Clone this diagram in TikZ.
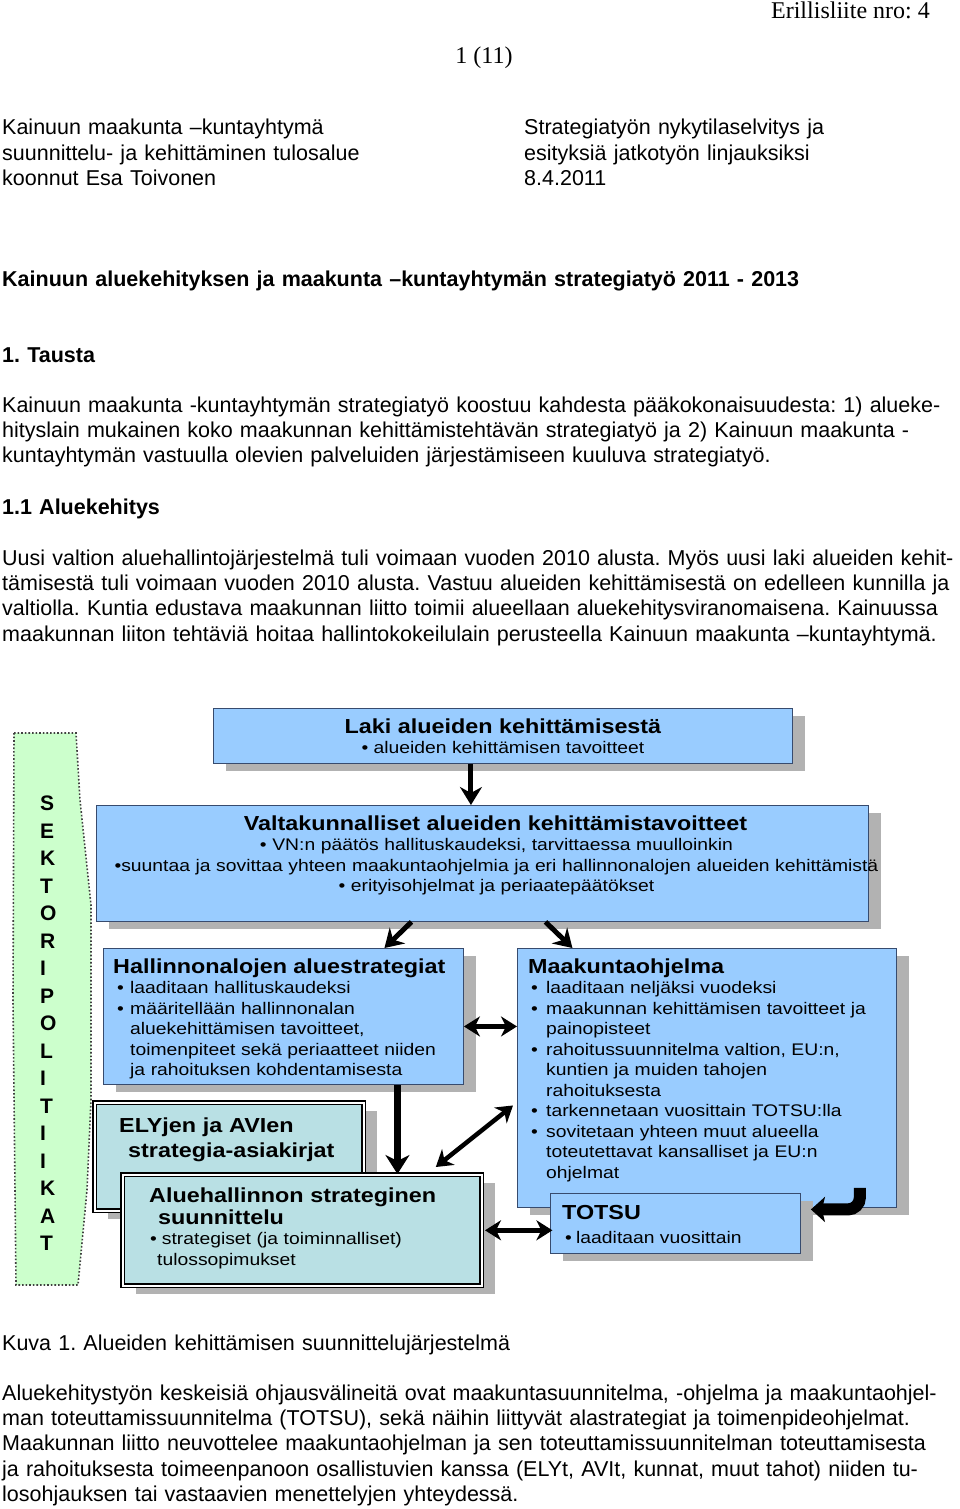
\documentclass[tikz,border=0pt]{standalone}
\usepackage{fontspec}
\setmainfont{Liberation Sans}
\newfontfamily\serifhead{Liberation Serif}
\newfontfamily\diafont[FakeStretch=1.15]{Liberation Sans}
\usetikzlibrary{positioning, arrows.meta, calc, shadows}
\frenchspacing

\definecolor{boxblue}{RGB}{153,204,255}
\definecolor{boxedge}{RGB}{55,75,110}
\definecolor{boxteal}{RGB}{185,224,228}
\definecolor{bandgreen}{RGB}{204,255,204}
\definecolor{shadowgray}{RGB}{178,178,178}

\newcommand{\bpt}[1][14pt]{\makebox[#1][l]{•}}
\newcommand{\bpad}[1][14pt]{\hspace*{#1}}

\begin{document}
\begin{tikzpicture}[
    x=1pt, y=-1pt,
    pg/.style={font=\fontsize{21.5}{25.4}\selectfont, inner sep=0, anchor=base west,
               text width=1000pt, align=left},
    pghd/.style={pg, font=\fontsize{21.5}{25.4}\selectfont\bfseries},
    serifhd/.style={font=\serifhead\fontsize{24}{28}\selectfont, inner sep=0},
    box/.style={draw=boxedge, line width=0.9pt, fill=boxblue, anchor=north west, inner sep=0,
                drop shadow={shadow xshift=13pt, shadow yshift=-8pt, fill=shadowgray, opacity=1}},
    dbox/.style={box, draw=black, fill=boxteal, line width=1.6pt, double=white,
                 double distance=1.6pt},
    ttl/.style={font=\diafont\bfseries\fontsize{20.3}{25}\selectfont, inner sep=0},
    boxtxt/.style={font=\diafont\fontsize{16.8}{20.5}\selectfont, inner sep=0},
    boxlist/.style={boxtxt, anchor=base west, text width=370pt, align=left},
    sektor/.style={font=\fontsize{21}{21}\selectfont\bfseries, inner sep=0, anchor=base west},
    band/.style={fill=bandgreen, draw=black!75, dotted, line width=1.6pt},
    arr/.style={line width=5pt, -{Stealth[length=18pt,width=22pt,inset=6pt]}},
    darr/.style={line width=4.5pt, {Stealth[length=16pt,width=20pt,inset=5pt]}-{Stealth[length=16pt,width=20pt,inset=5pt]}},
    fatarr/.style={line width=6.5pt, -{Stealth[length=19pt,width=24pt,inset=6pt]}},
    hookarr/.style={line width=12pt, rounded corners=12pt, -{Stealth[length=14pt,width=25pt,inset=3pt]}},
  ]
  \fill[white] (0,0) rectangle (960,1509);
  \useasboundingbox (0,0) rectangle (960,1509);

  \node[serifhd, anchor=base east] (liite) at (930,19) {Erillisliite nro: 4};
  \node[serifhd, anchor=base] (sivu) at (484,64) {1 (11)};

  \node[pg, text width=500pt] (laatija) at (2,135) {Kainuun maakunta –kuntayhtymä\\suunnittelu- ja kehittäminen tulosalue\\koonnut Esa Toivonen};
  \node[pg, text width=430pt] (aihe) at (524,135) {Strategiatyön nykytilaselvitys ja\\esityksiä jatkotyön linjauksiksi\\8.4.2011};

  \node[pghd] (otsikko) at (2,286) {Kainuun aluekehityksen ja maakunta –kuntayhtymän strategiatyö 2011 - 2013};
  \node[pghd] (tausta) at (2,362) {1. Tausta};
  \node[pg] (kpl1) at (2,412) {Kainuun maakunta -kuntayhtymän strategiatyö koostuu kahdesta pääkokonaisuudesta: 1) alueke-\\hityslain mukainen koko maakunnan kehittämistehtävän strategiatyö ja 2) Kainuun maakunta -\\kuntayhtymän vastuulla olevien palveluiden järjestämiseen kuuluva strategiatyö.};
  \node[pghd] (aluekeh) at (2,514) {1.1 Aluekehitys};
  \node[pg] (kpl2) at (2,565) {Uusi valtion aluehallintojärjestelmä tuli voimaan vuoden 2010 alusta. Myös uusi laki alueiden kehit-\\tämisestä tuli voimaan vuoden 2010 alusta. Vastuu alueiden kehittämisestä on edelleen kunnilla ja\\valtiolla. Kuntia edustava maakunnan liitto toimii alueellaan aluekehitysviranomaisena. Kainuussa\\maakunnan liiton tehtäviä hoitaa hallintokokeilulain perusteella Kainuun maakunta –kuntayhtymä.};

  \draw[band] (14,733) -- (76,733) -- (80,800) -- (91,905) -- (91,1100) -- (87,1190)
    -- (78,1285) -- (16,1285) -- (13,1000) -- cycle;
  \foreach \ch [count=\i from 0] in {S,E,K,T,O,R,I,P,O,L,I,T,I,I,K,A,T}
    \node[sektor] (sek\i) at (40,810.5+27.5*\i) {\ch};

  \node[box, minimum width=579pt, minimum height=55pt] (laki) at (213,708) {};
  \node[box, minimum width=772pt, minimum height=116pt] (valtak) at (96,805) {};
  \node[box, minimum width=360pt, minimum height=136pt] (hallinnon) at (103,948) {};
  \node[box, minimum width=379pt, minimum height=259pt] (maakunta) at (517,948) {};
  \node[dbox, minimum width=269pt, minimum height=108pt] (ely) at (94,1102) {};
  \node[dbox, minimum width=359pt, minimum height=111pt] (aluehall) at (122,1174) {};
  \node[box, minimum width=250pt, minimum height=60pt] (totsu) at (550,1193) {};

  \node[ttl, anchor=base] (lakit) at ($(laki.north)+(0,25)$) {Laki alueiden kehittämisestä};
  \node[boxtxt, anchor=base] (lakib) at ($(laki.north)+(0,45.5)$) {• alueiden kehittämisen tavoitteet};

  \node[ttl, anchor=base] (valtakt) at ($(valtak.north)+(13,25)$) {Valtakunnalliset alueiden kehittämistavoitteet};
  \node[boxtxt, anchor=base, text width=800pt, align=center] (valtakb) at ($(valtak.north)+(14,45.5)$)
    {• VN:n päätös hallituskaudeksi, tarvittaessa muulloinkin\\•suuntaa ja sovittaa yhteen maakuntaohjelmia ja eri hallinnonalojen alueiden kehittämistä\\• erityisohjelmat ja periaatepäätökset};

  \node[ttl, anchor=base west] (hallinnont) at ($(hallinnon.north west)+(10,25)$) {Hallinnonalojen aluestrategiat};
  \node[boxlist] (hallinnonb) at ($(hallinnon.north west)+(14,45.5)$)
    {\bpt[13pt]laaditaan hallituskaudeksi\\\bpt[13pt]määritellään hallinnonalan\\\bpad[13pt]aluekehittämisen tavoitteet,\\\bpad[13pt]toimenpiteet sekä periaatteet niiden\\\bpad[13pt]ja rahoituksen kohdentamisesta};

  \node[ttl, anchor=base west] (maakuntat) at ($(maakunta.north west)+(11,25)$) {Maakuntaohjelma};
  \node[boxlist] (maakuntab) at ($(maakunta.north west)+(14,45.5)$)
    {\bpt[15pt]laaditaan neljäksi vuodeksi\\\bpt[15pt]maakunnan kehittämisen tavoitteet ja\\\bpad[15pt]painopisteet\\\bpt[15pt]rahoitussuunnitelma valtion, EU:n,\\\bpad[15pt]kuntien ja muiden tahojen\\\bpad[15pt]rahoituksesta\\\bpt[15pt]tarkennetaan vuosittain TOTSU:lla\\\bpt[15pt]sovitetaan yhteen muut alueella\\\bpad[15pt]toteutettavat kansalliset ja EU:n\\\bpad[15pt]ohjelmat};

  \node[ttl, anchor=base west, text width=250pt, align=left] (elyt) at ($(ely.north west)+(25,30)$)
    {ELYjen ja AVIen\\\hspace*{9pt}strategia-asiakirjat};

  \node[ttl, anchor=base west, text width=330pt, align=left, font=\diafont\bfseries\fontsize{20.3}{22}\selectfont]
    (aluehallt) at ($(aluehall.north west)+(27,28)$) {Aluehallinnon strateginen\\\hspace*{9pt}suunnittelu};
  \node[boxlist, text width=330pt] (aluehallb) at ($(aluehall.north west)+(28,70.5)$)
    {•\hspace{5pt}strategiset (ja toiminnalliset)\\\bpad[7pt]tulossopimukset};

  \node[ttl, anchor=base west] (totsut) at ($(totsu.north west)+(12,26)$) {TOTSU};
  \node[boxtxt, anchor=base west] (totsub) at ($(totsu.north west)+(15,50.5)$) {\bpt[11pt]laaditaan vuosittain};

  \draw[arr] ([xshift=-32pt]laki.south) -- ([xshift=-32pt]laki.south |- valtak.north);
  \draw[arr] ($(valtak.south)+(-71,0)$) -- ($(hallinnon.north)+(101,0)$);
  \draw[arr] ($(valtak.south)+(63,0)$) -- ($(maakunta.north)+(-134.5,0)$);
  \draw[darr] ([yshift=-10pt]hallinnon.east) -- ([yshift=-10pt]hallinnon.east -| maakunta.west);
  \draw[fatarr] ([xshift=114pt]hallinnon.south) -- ([xshift=114pt]hallinnon.south |- aluehall.north);
  \draw[darr] ($(aluehall.north)+(133.5,-7)$) -- ($(maakunta.west)+(-4,27.5)$);
  \draw[darr] ([xshift=2.4pt]aluehall.east) -- ([xshift=2.4pt]aluehall.east -| totsu.west);
  \draw[hookarr] ($(maakunta.south east)+(-37,-20)$) |- ($(totsu.east)+(10,-14)$);

  \node[pg] (kuva) at (2,1350) {Kuva 1. Alueiden kehittämisen suunnittelujärjestelmä};
  \node[pg] (kpl3) at (2,1400) {Aluekehitystyön keskeisiä ohjausvälineitä ovat maakuntasuunnitelma, -ohjelma ja maakuntaohjel-\\man toteuttamissuunnitelma (TOTSU), sekä näihin liittyvät alastrategiat ja toimenpideohjelmat.\\Maakunnan liitto neuvottelee maakuntaohjelman ja sen toteuttamissuunnitelman toteuttamisesta\\ja rahoituksesta toimeenpanoon osallistuvien kanssa (ELYt, AVIt, kunnat, muut tahot) niiden tu-\\losohjauksen tai vastaavien menettelyjen yhteydessä.};
\end{tikzpicture}
\end{document}
